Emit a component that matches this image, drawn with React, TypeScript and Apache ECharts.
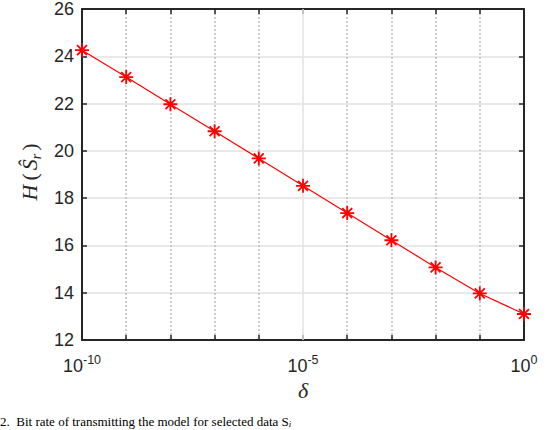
import React, { useEffect, useRef } from "react";
import * as echarts from "echarts";

// ---- data ----
const deltas = [1e-10, 1e-9, 1e-8, 1e-7, 1e-6, 1e-5, 1e-4, 1e-3, 1e-2, 1e-1, 1];
const entropyBits = [24.26, 23.12, 21.97, 20.83, 19.68, 18.52, 17.37, 16.22, 15.07, 13.97, 13.1];
const xExpMin = -10;
const xExpMax = 0;
const xLabelExps = [-10, -5, 0];
const yMin = 12;
const yMax = 26;
const yStep = 2;
const captionText = "2.  Bit rate of transmitting the model for selected data S";
const captionSub = "i";

const STAR =
  "path://M8.7 0L11.3 0L11.3 20L8.7 20Z M0 8.7L20 8.7L20 11.3L0 11.3Z M3.85 2.01L17.99 16.15L16.15 17.99L2.01 3.85Z M16.15 2.01L17.99 3.85L3.85 17.99L2.01 16.15Z";

const AX = "#262626";
const SANS = '"Liberation Sans", Arial, sans-serif';
const SERIF = '"Liberation Serif", "Times New Roman", serif';

export default function App() {
  const ref = useRef<HTMLDivElement>(null);
  useEffect(() => {
    document.body.style.margin = "0";
    if (!ref.current) return;
    const chart = echarts.init(ref.current, undefined, { renderer: "svg" });
    const data = deltas.map((d, i) => [Math.round(Math.log10(d)), entropyBits[i]]);
    chart.setOption({
      animation: false,
      backgroundColor: "#ffffff",
      grid: { left: 82, right: 30, top: 7, bottom: 90, containLabel: false },
      xAxis: [
        {
          type: "value",
          position: "bottom",
          min: xExpMin,
          max: xExpMax,
          interval: 1,
          name: "δ",
          nameLocation: "middle",
          nameGap: 38,
          nameTextStyle: { fontFamily: SERIF, fontStyle: "italic", fontSize: 22, color: AX },
          axisLine: { show: true, onZero: false, lineStyle: { color: AX, width: 2 } },
          axisTick: { show: true, inside: true, length: 5, lineStyle: { color: AX, width: 1.5 } },
          axisLabel: {
            margin: 13,
            color: AX,
            showMinLabel: true,
            showMaxLabel: true,
            formatter: (v: number) => (xLabelExps.includes(Math.round(v)) ? `{b|10}{sup|${Math.round(v)}}` : ""),
            rich: {
              b: { fontFamily: SANS, fontSize: 18, color: AX, lineHeight: 26 },
              sup: { fontFamily: SANS, fontSize: 12.5, color: AX, verticalAlign: "top" },
            },
          },
          splitLine: {
            show: true,
            lineStyle: {
              type: [2, 2],
              width: 1.5,
              color: ["rgba(0,0,0,0)", "#bdbdbd", "#bdbdbd", "#bdbdbd", "#bdbdbd"],
            },
          },
        },
        {
          type: "value",
          position: "top",
          min: xExpMin,
          max: xExpMax,
          interval: 1,
          axisLine: { show: true, onZero: false, lineStyle: { color: AX, width: 2 } },
          axisTick: { show: true, inside: true, length: 5, lineStyle: { color: AX, width: 1.5 } },
          axisLabel: { show: false },
          splitLine: { show: false },
        },
      ],
      yAxis: [
        {
          type: "value",
          position: "left",
          min: yMin,
          max: yMax,
          interval: yStep,
          name: "{it|H}{rm|(}{hat|Ŝ}{sub|r}{rm|)}",
          nameLocation: "middle",
          nameRotate: 90,
          nameGap: 36,
          nameTextStyle: {
            padding: [0, 0, 0, 6],
            rich: {
              it: { fontFamily: SERIF, fontStyle: "italic", fontSize: 22, color: AX, lineHeight: 28, padding: [0, 3, 0, 0] },
              rm: { fontFamily: SERIF, fontSize: 22, color: AX, lineHeight: 28, padding: [0, 1, 0, 1] },
              hat: { fontFamily: SERIF, fontStyle: "italic", fontSize: 22, color: AX, lineHeight: 28, padding: [0, 0, 0, 2] },
              sub: { fontFamily: SERIF, fontStyle: "italic", fontSize: 14, color: AX, verticalAlign: "bottom", padding: [0, 2, 0, 0] },
            },
          },
          axisLine: { show: true, onZero: false, lineStyle: { color: AX, width: 2 } },
          axisTick: { show: true, inside: true, length: 5, lineStyle: { color: AX, width: 1.5 } },
          axisLabel: { margin: 8, fontFamily: SANS, fontSize: 18, color: AX },
          splitLine: { show: true, lineStyle: { type: "solid", width: 1.5, color: "#e2e2e2" } },
        },
        {
          type: "value",
          position: "right",
          min: yMin,
          max: yMax,
          interval: yStep,
          axisLine: { show: true, onZero: false, lineStyle: { color: AX, width: 2 } },
          axisTick: { show: true, inside: true, length: 5, lineStyle: { color: AX, width: 1.5 } },
          axisLabel: { show: false },
          splitLine: { show: false },
        },
      ],
      series: [
        {
          type: "line",
          data,
          xAxisIndex: 0,
          yAxisIndex: 0,
          symbol: STAR,
          symbolSize: 14,
          showAllSymbol: true,
          lineStyle: { color: "#ff0000", width: 1.2 },
          itemStyle: { color: "#ff0000" },
          z: 3,
          markLine: {
            silent: true,
            symbol: "none",
            z: 1,
            label: { show: false },
            lineStyle: { color: "#e2e2e2", type: "solid", width: 1.5 },
            data: [{ xAxis: -5 }],
          },
        },
      ],
      graphic: [
        {
          type: "text",
          left: 0,
          top: 415,
          style: {
            text: `${captionText}{s|${captionSub}}`,
            rich: { s: { font: `italic 9px ${SERIF}`, fill: "#000", verticalAlign: "bottom" } },
            font: `13px ${SERIF}`,
            fill: "#000",
          },
        },
      ],
    });
    return () => chart.dispose();
  }, []);
  return <div ref={ref} style={{ width: 554, height: 430 }} />;
}
